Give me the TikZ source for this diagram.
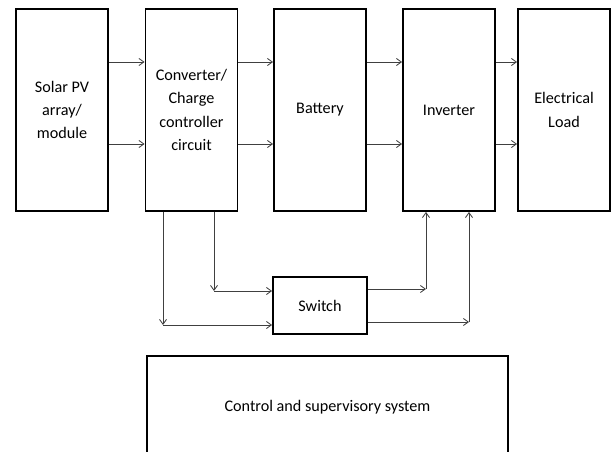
\documentclass[tikz,border=0pt]{standalone}
\usepackage{fontspec}
\setmainfont{Carlito}
\usetikzlibrary{arrows.meta,positioning}

\begin{document}
\begin{tikzpicture}[x=0.025cm, y=-0.025cm,
  block/.style={draw, line width=1.3pt, minimum width=2.3cm, minimum height=5.05cm, align=center, font=\fontsize{11.5}{16.5}\selectfont, inner sep=1pt},
  arrow/.style={-{Straight Barb[length=3.5pt,width=5pt]}, draw=black!75, line width=0.6pt}
]
  \useasboundingbox (0,0) rectangle (611,452);
  \clip (0,0) rectangle (611,452);

  \node[block] (solar) at (62,110)   {Solar PV\\array/\\module};
  \node[block] (conv)  at (191.5,110){Converter/\\Charge\\controller\\circuit};
  \node[block] (batt)  at (320,110)  {Battery};
  \node[block] (inv)   at (449,110)  {Inverter};
  \node[block] (load)  at (564,110)  {Electrical\\Load};

  \node[block, minimum width=2.35cm, minimum height=1.425cm] (sw) at (320,305.5) {Switch};
  \node[block, minimum width=9.025cm, minimum height=2.55cm] (ctrl) at (327.5,407) {Control and supervisory system};

  \coordinate (ya) at (0,62);
  \coordinate (yb) at (0,144);
  \foreach \i/\j in {solar/conv,conv/batt,batt/inv,inv/load} {
    \draw[arrow] (\i.east |- ya) -- (\j.west |- ya);
    \draw[arrow] (\i.east |- yb) -- (\j.west |- yb);
  }

  \coordinate (k1) at (214,291);
  \coordinate (k2) at (163,325);
  \coordinate (m1) at (426,289);
  \coordinate (m2) at (469,322);
  \draw[arrow] (conv.south -| k1) -- (k1);
  \draw[arrow] (k1) -- (sw.west |- k1);
  \draw[arrow] (conv.south -| k2) -- (k2);
  \draw[arrow] (k2) -- (sw.west |- k2);
  \draw[arrow] (sw.east |- m1) -- (m1);
  \draw[arrow] (m1) -- (inv.south -| m1);
  \draw[arrow] (sw.east |- m2) -- (m2);
  \draw[arrow] (m2) -- (inv.south -| m2);
\end{tikzpicture}
\end{document}
